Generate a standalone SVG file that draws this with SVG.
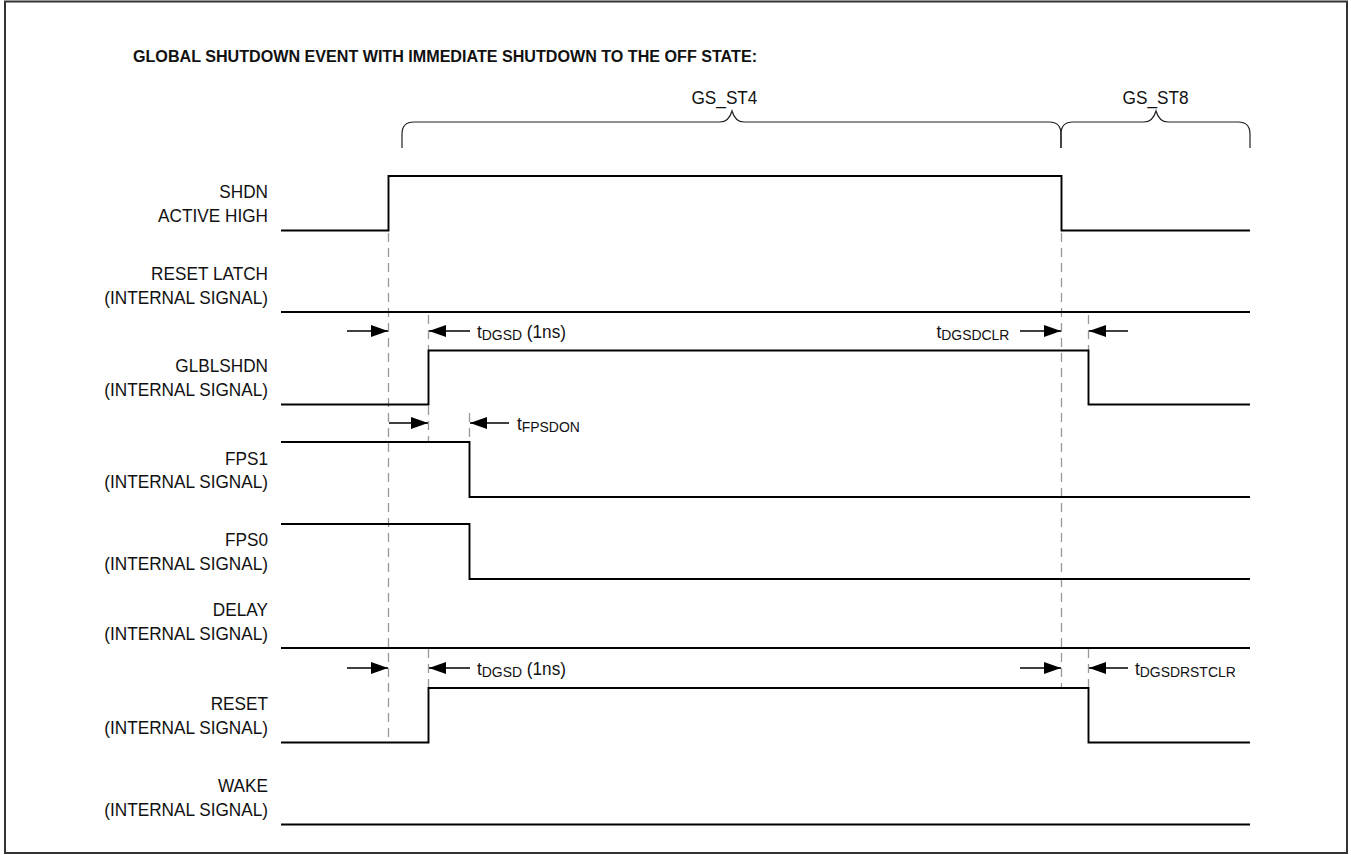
<svg xmlns="http://www.w3.org/2000/svg" width="1351" height="855" viewBox="0 0 1351 855">
<style>
.sig{fill:none;stroke:#000;stroke-width:1.9}
.dash{fill:none;stroke:#999;stroke-width:1.3;stroke-dasharray:9 6}
.brace{fill:none;stroke:#222;stroke-width:1.2}
.arr{fill:none;stroke:#000;stroke-width:1.6;marker-end:url(#ah)}
.lbl{font-family:"Liberation Sans",Arial,sans-serif;font-size:18.5px;fill:#111;text-anchor:end}
.tl{font-family:"Liberation Sans",Arial,sans-serif;font-size:18.5px;fill:#111}
.sub{font-size:15px}
.title{font-family:"Liberation Sans",Arial,sans-serif;font-size:16px;font-weight:bold;fill:#111}
.st{font-family:"Liberation Sans",Arial,sans-serif;font-size:18.5px;fill:#111;text-anchor:middle}
</style>
<defs>
<marker id="ah" markerUnits="userSpaceOnUse" markerWidth="17" markerHeight="12" refX="17" refY="6" orient="auto">
<path d="M0,0 L17,6 L0,12 z" fill="#000"/>
</marker>
</defs>
<rect x="0" y="0" width="1351" height="855" fill="#fff"/>
<rect x="5" y="1.5" width="1342" height="851.5" fill="none" stroke="#333" stroke-width="2"/>
<text class="title" x="133" y="62" textLength="624" lengthAdjust="spacingAndGlyphs">GLOBAL SHUTDOWN EVENT WITH IMMEDIATE SHUTDOWN TO THE OFF STATE:</text>

<g id="states">
<path class="brace" d="M402,148 V134 C402,126 406,122 414,122 H720 C726,122 730,118 732,111 C734,118 738,122 744,122 H1049 C1057,122 1061,126 1061,134 V148"/>
<path class="brace" d="M1061,148 V134 C1061,126 1065,122 1073,122 H1144 C1150,122 1154,118 1156,111 C1158,118 1162,122 1168,122 H1238 C1246,122 1250,126 1250,134 V148"/>
<g transform="scale(0.93 1)">
<text class="st" x="779" y="104">GS_ST4</text>
<text class="st" x="1242.5" y="104">GS_ST8</text>
</g>
</g>

<g id="connectors">
<line class="dash" x1="388.5" y1="233" x2="388.5" y2="742"/>
<line class="dash" x1="428.5" y1="315" x2="428.5" y2="350"/>
<line class="dash" x1="428.5" y1="406" x2="428.5" y2="442"/>
<line class="dash" x1="428.5" y1="649" x2="428.5" y2="688"/>
<line class="dash" x1="469.5" y1="413" x2="469.5" y2="442"/>
<line class="dash" x1="1061.5" y1="233" x2="1061.5" y2="688"/>
<line class="dash" x1="1088.5" y1="315" x2="1088.5" y2="350"/>
<line class="dash" x1="1088.5" y1="649" x2="1088.5" y2="688"/>

<line class="arr" x1="347" y1="331" x2="388" y2="331"/>
<line class="arr" x1="470" y1="331" x2="429" y2="331"/>
<line class="arr" x1="1020" y1="331" x2="1061" y2="331"/>
<line class="arr" x1="1128" y1="331" x2="1089" y2="331"/>
<line class="arr" x1="389" y1="423" x2="428" y2="423"/>
<line class="arr" x1="509" y1="423" x2="470" y2="423"/>
<line class="arr" x1="347" y1="668" x2="388" y2="668"/>
<line class="arr" x1="470" y1="668" x2="429" y2="668"/>
<line class="arr" x1="1020" y1="668" x2="1061" y2="668"/>
<line class="arr" x1="1128" y1="668" x2="1089" y2="668"/>
</g>

<g id="shdn">
<path class="sig" d="M281,230.5 H388.5 V176 H1061.5 V230.5 H1250"/>
<text class="lbl" transform="scale(0.93 1)" x="288.2" y="198">SHDN</text>
<text class="lbl" transform="scale(0.93 1)" x="288.2" y="222">ACTIVE HIGH</text>
</g>
<g id="reset-latch">
<path class="sig" d="M281,312 H1250"/>
<text class="lbl" transform="scale(0.93 1)" x="288.2" y="280">RESET LATCH</text>
<text class="lbl" transform="scale(0.93 1)" x="288.2" y="304">(INTERNAL SIGNAL)</text>
</g>
<g id="glblshdn">
<path class="sig" d="M281,404.5 H428.5 V350.5 H1088.5 V404.5 H1250"/>
<text class="lbl" transform="scale(0.93 1)" x="288.2" y="372">GLBLSHDN</text>
<text class="lbl" transform="scale(0.93 1)" x="288.2" y="396">(INTERNAL SIGNAL)</text>
</g>
<g id="fps1">
<path class="sig" d="M281,442 H469.5 V497 H1250"/>
<text class="lbl" transform="scale(0.93 1)" x="288.2" y="465">FPS1</text>
<text class="lbl" transform="scale(0.93 1)" x="288.2" y="488">(INTERNAL SIGNAL)</text>
</g>
<g id="fps0">
<path class="sig" d="M281,524 H469.5 V579 H1250"/>
<text class="lbl" transform="scale(0.93 1)" x="288.2" y="546">FPS0</text>
<text class="lbl" transform="scale(0.93 1)" x="288.2" y="570">(INTERNAL SIGNAL)</text>
</g>
<g id="delay">
<path class="sig" d="M281,648 H1250"/>
<text class="lbl" transform="scale(0.93 1)" x="288.2" y="616">DELAY</text>
<text class="lbl" transform="scale(0.93 1)" x="288.2" y="640">(INTERNAL SIGNAL)</text>
</g>
<g id="reset">
<path class="sig" d="M281,742.5 H428.5 V688 H1088.5 V742.5 H1250"/>
<text class="lbl" transform="scale(0.93 1)" x="288.2" y="710">RESET</text>
<text class="lbl" transform="scale(0.93 1)" x="288.2" y="734">(INTERNAL SIGNAL)</text>
</g>
<g id="wake">
<path class="sig" d="M281,824.5 H1250"/>
<text class="lbl" transform="scale(0.93 1)" x="288.2" y="792">WAKE</text>
<text class="lbl" transform="scale(0.93 1)" x="288.2" y="816">(INTERNAL SIGNAL)</text>
</g>

<g id="timing-labels" transform="scale(0.93 1)">
<text class="tl" x="512.9" y="338">t<tspan class="sub" dy="2">DGSD</tspan><tspan dy="-2"> (1ns)</tspan></text>
<text class="tl" x="555.9" y="430">t<tspan class="sub" dy="2">FPSDON</tspan></text>
<text class="tl" x="1007" y="338">t<tspan class="sub" dy="2">DGSDCLR</tspan></text>
<text class="tl" x="512.9" y="675">t<tspan class="sub" dy="2">DGSD</tspan><tspan dy="-2"> (1ns)</tspan></text>
<text class="tl" x="1220.4" y="675">t<tspan class="sub" dy="2">DGSDRSTCLR</tspan></text>
</g>
</svg>
